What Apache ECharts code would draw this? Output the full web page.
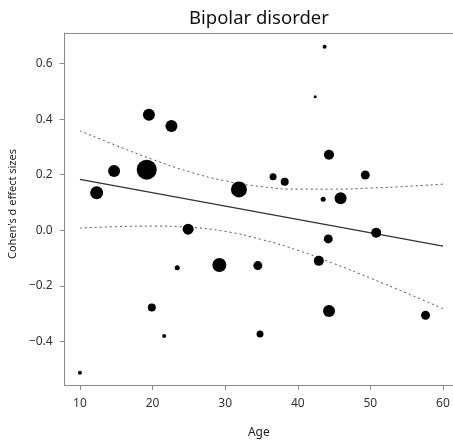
<!DOCTYPE html>
<html>
<head>
<meta charset="utf-8">
<script src="https://cdn.jsdelivr.net/npm/echarts@6/dist/echarts.min.js"></script>
<style>
  html, body { margin: 0; padding: 0; background: #fff; }
  #chart { width: 453px; height: 444px; }
</style>
</head>
<body>
<div id="chart"></div>
<script>
// studies: mean age, Cohen's d, relative weight (drawn as dot diameter)
const ages = [10.0, 12.3, 14.7, 19.2, 19.5, 22.6, 24.9, 23.4, 29.2, 31.9, 34.5, 36.6, 38.2, 42.9,
    43.5, 44.3, 44.2, 45.9, 49.3, 50.8, 43.7, 42.4, 19.9, 21.6, 34.8, 44.3, 57.6];
const effects = [-0.512, 0.135, 0.213, 0.218, 0.416, 0.375, 0.004, -0.135, -0.125, 0.147, -0.127, 0.193,
    0.175, -0.110, 0.112, 0.272, -0.031, 0.115, 0.199, -0.009, 0.660, 0.480, -0.278, -0.380, -0.373, -0.290, -0.306];
const weights = [4, 13, 12, 20, 12, 12, 11, 5, 14, 16, 9, 7, 8, 10, 5, 10, 9, 12, 9, 10, 4, 3, 8, 4, 7, 12, 9];

// meta-regression line and confidence band
const fitAges = [10, 60];
const fitValues = [0.183, -0.057];
const bandAges = [10, 15, 20, 25, 30, 35, 40, 45, 50, 55, 60];
const bandUpper = [0.358, 0.305, 0.255, 0.211, 0.178, 0.157, 0.148, 0.148, 0.152, 0.158, 0.166];
const bandLower = [0.008, 0.013, 0.015, 0.011, -0.004, -0.033, -0.072, -0.120, -0.172, -0.226, -0.282];

const xTicks = [10, 20, 30, 40, 50, 60];
const yTicks = [-0.4, -0.2, 0.0, 0.2, 0.4, 0.6];

const font = "Noto Sans";
const axisGray = "#8a8a8a";

const chart = echarts.init(document.getElementById("chart"));

const zip = (xs, ys) => xs.map((x, i) => [x, ys[i]]);
const bandStyle = { color: "#555", width: 1, type: [2, 3] };

// the plot box runs off the right edge of the picture, so no right border
chart.setOption({
    animation: false,
    title: {
        text: "Bipolar disorder",
        left: 184,
        top: 4,
        textStyle: { fontFamily: font, fontSize: 18.5, fontWeight: "normal", color: "#111" },
    },
    grid: {
        left: 64.7,
        top: 33,
        right: 0,
        bottom: 59,
        outerBoundsMode: "none",
        containLabel: false,
    },
    xAxis: [
        {
            type: "value",
            min: 7.9,
            max: 61.38,
            name: "Age",
            nameLocation: "middle",
            nameGap: 42,
            nameTextStyle: { fontFamily: font, fontSize: 12, color: "#222" },
            axisLine: { show: true, onZero: false, lineStyle: { color: axisGray } },
            axisTick: { show: true, length: 5, customValues: xTicks, lineStyle: { color: axisGray } },
            axisLabel: { customValues: xTicks, margin: 13, fontFamily: font, fontSize: 12, color: "#333" },
            splitLine: { show: false },
        },
        {
            type: "value",
            position: "top",
            min: 7.9,
            max: 61.38,
            axisLine: { show: true, onZero: false, lineStyle: { color: axisGray } },
            axisTick: { show: false },
            axisLabel: { show: false },
            splitLine: { show: false },
        },
    ],
    yAxis: {
        type: "value",
        min: -0.5565,
        max: 0.7097,
        name: "Cohen's d effect sizes",
        nameLocation: "middle",
        nameGap: 32,
        nameTextStyle: { fontFamily: font, fontSize: 11, color: "#222", padding: [0, 0, 0, 10] },
        axisLine: { show: true, onZero: false, lineStyle: { color: axisGray } },
        axisTick: { show: true, length: 5, customValues: yTicks, lineStyle: { color: axisGray } },
        axisLabel: {
            customValues: yTicks,
            margin: 12,
            fontFamily: font,
            fontSize: 12,
            color: "#333",
            formatter: (v) => {
                const s = (Math.abs(v) < 1e-9 ? 0 : v).toFixed(1);
                return s.replace("-", "\u2212");
            },
        },
        splitLine: { show: false },
    },
    series: [
        {
            type: "line",
            data: zip(bandAges, bandUpper),
            smooth: true,
            symbol: "none",
            lineStyle: bandStyle,
            z: 1,
        },
        {
            type: "line",
            data: zip(bandAges, bandLower),
            smooth: true,
            symbol: "none",
            lineStyle: bandStyle,
            z: 1,
        },
        {
            type: "line",
            data: zip(fitAges, fitValues),
            symbol: "none",
            lineStyle: { color: "#333", width: 1.2 },
            z: 2,
        },
        {
            type: "scatter",
            data: ages.map((a, i) => [a, effects[i], weights[i]]),
            symbolSize: (d) => d[2],
            itemStyle: { color: "#000", opacity: 1 },
            z: 3,
        },
    ],
});
</script>
</body>
</html>
